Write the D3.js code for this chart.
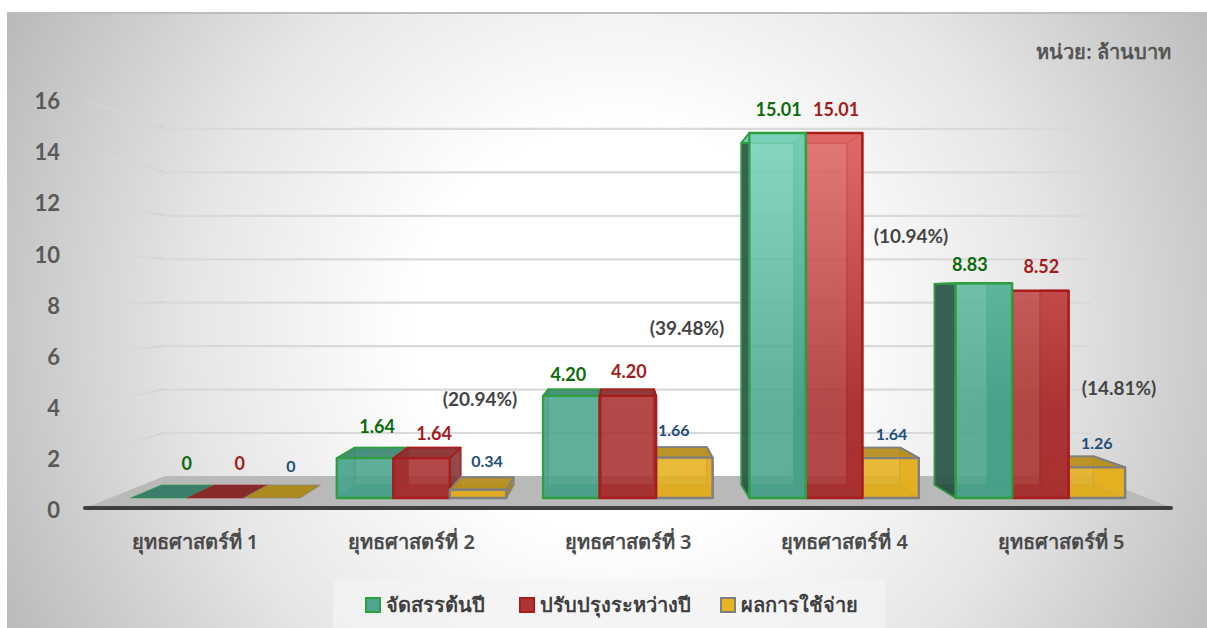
<!DOCTYPE html>
<html><head><meta charset="utf-8">
<script src="https://cdn.jsdelivr.net/npm/d3@7"></script>
<style>html,body{margin:0;padding:0;background:#fff;overflow:hidden}svg{display:block}
text{font-family:"Noto Sans","Lato",sans-serif;font-weight:600}</style></head>
<body><div id="c"></div>
<script>
const categories=["ยุทธศาสตร์ที่ 1","ยุทธศาสตร์ที่ 2","ยุทธศาสตร์ที่ 3","ยุทธศาสตร์ที่ 4","ยุทธศาสตร์ที่ 5"];
const seriesNames=["จัดสรรต้นปี","ปรับปรุงระหว่างปี","ผลการใช้จ่าย"];
const allocated=[0,1.64,4.20,15.01,8.83];
const revised=[0,1.64,4.20,15.01,8.52];
const spent=[0,0.34,1.66,1.64,1.26];
const allocatedText=["0","1.64","4.20","15.01","8.83"];
const revisedText=["0","1.64","4.20","15.01","8.52"];
const spentText=["0","0.34","1.66","1.64","1.26"];
const percents=["","(20.94%)","(39.48%)","(10.94%)","(14.81%)"];
const yTicks=[0,2,4,6,8,10,12,14,16];
const unitLabel="หน่วย: ล้านบาท";

const W=1207,H=628;
const svg=d3.select("#c").append("svg").attr("width",W).attr("height",H);
const defs=svg.append("defs");

// perspective model
const vx=622,vy=292,kBack=0.937,kWall=0.893,kFloor=1.044,kLabel=1.05;
const P=(x,y,k)=>[vx+(x-vx)*k,vy+(y-vy)*k];
const x0=d3.scaleBand().domain(d3.range(5)).range([112.2,1143.45]).paddingInner(36.75/206.25).paddingOuter(18.375/206.25);
const x1=d3.scaleBand().domain(d3.range(3)).range([0,x0.bandwidth()]);
const y=d3.scaleLinear().domain([0,16]).range([498,498-16*24.32]);

// background
const bg=defs.append("radialGradient").attr("id","bg").attr("gradientUnits","userSpaceOnUse")
 .attr("cx",620).attr("cy",330).attr("r",690);
[[0,"#ffffff"],[0.3,"#ffffff"],[0.62,"#e6e6e6"],[1,"#b9b9b9"]].forEach(s=>bg.append("stop").attr("offset",s[0]).attr("stop-color",s[1]));
svg.append("rect").attr("x",7).attr("y",13).attr("width",W-7).attr("height",H-13).attr("fill","url(#bg)");
svg.append("rect").attr("x",7).attr("y",12).attr("width",W-7).attr("height",2).attr("fill","#bdbdbd");

// legend backing
svg.append("rect").attr("x",333).attr("y",579).attr("width",552).attr("height",49).attr("fill","#f4f4f4").attr("opacity",.7);

// gridlines on wall, fading side wall
const sideGrad=defs.append("linearGradient").attr("id","side").attr("gradientUnits","userSpaceOnUse").attr("x1",85).attr("x2",165).attr("y1",0).attr("y2",0);
sideGrad.append("stop").attr("offset",0).attr("stop-color","#dedede").attr("stop-opacity",.15);
sideGrad.append("stop").attr("offset",1).attr("stop-color","#d2d2d2");
const grid=svg.append("g");
yTicks.filter(t=>t>0).forEach(t=>{
  const a=P(110,y(t),kWall),b=P(1147,y(t),kWall),c=P(110,y(t),1.05);
  grid.append("polyline").attr("points",[c,a].join(" ")).attr("fill","none").attr("stroke","url(#side)").attr("stroke-width",2);
  grid.append("line").attr("x1",a[0]).attr("y1",a[1]+.5).attr("x2",b[0]).attr("y2",a[1]+.5).attr("stroke","#d9d9d9").attr("stroke-width",2.2);
});

// floor
svg.append("path").attr("fill","#b9b9b9").attr("d",d3.line()([P(110,y(0),kWall),P(1147,y(0),kWall),P(1147,y(0),kFloor),P(110,y(0),kFloor)])+"Z");

// axis baseline
svg.append("line").attr("x1",85).attr("x2",1171).attr("y1",508).attr("y2",508).attr("stroke","#3f3f3f").attr("stroke-width",4).attr("stroke-linecap","round");

// y axis
const yAxisScale=d3.scaleLinear().domain([0,16]).range([P(0,y(0),kLabel)[1]+1.2,P(0,y(16),kLabel)[1]+1.2]);
const ya=svg.append("g").attr("transform","translate(60,0)").call(d3.axisLeft(yAxisScale).tickValues(yTicks).tickSize(0).tickPadding(0));
ya.select(".domain").remove();
ya.selectAll("text").attr("fill","#595959").style("font-size","22px").style("font-family",'"Lato","Noto Sans",sans-serif').style("font-weight",700).attr("dy","0.36em");

// category axis
const xAxisScale=d3.scaleOrdinal().domain(categories).range(categories.map((c,i)=>P(x0(i)+x0.bandwidth()/2,0,kLabel)[0]));
const xa=svg.append("g").attr("transform","translate(0,541)");
xa.selectAll("text").data(categories).join("text").attr("x",d=>xAxisScale(d)).attr("y",0)
 .attr("text-anchor","middle").attr("dominant-baseline","central").attr("fill","#4a4a4a").style("font-size","20px").text(d=>d);

// gradients
const palette=[
 {top:"#78d2ba",bot:"#4aa48d",stroke:"#2f9e3f",sideT:"#5fb09a",sideB:"#37826d",left:"#2a5247",under:"#3a7e6b",topF:"#3f8a76"},
 {top:"#e06866",bot:"#a92f2f",stroke:"#a81c1c",sideT:"#dc6563",sideB:"#a92f2f",left:"#7c2a2a",under:"#862a2a",topF:"#8a3030"},
 {top:"#eab522",bot:"#e6b01e",stroke:"#7f7f7f",sideT:"#e4ae1e",sideB:"#dca71a",left:"#a5831c",under:"#ad8a1e",topF:"#b78f1d"}];
palette.forEach((p,i)=>{
 const g=defs.append("linearGradient").attr("id","f"+i).attr("gradientUnits","userSpaceOnUse").attr("x1",0).attr("x2",0).attr("y1",133).attr("y2",480);
 g.append("stop").attr("offset",0).attr("stop-color",p.top);
 g.append("stop").attr("offset",.8).attr("stop-color",p.bot);
 const h=defs.append("linearGradient").attr("id","s"+i).attr("gradientUnits","userSpaceOnUse").attr("x1",0).attr("x2",0).attr("y1",133).attr("y2",480);
 h.append("stop").attr("offset",0).attr("stop-color",p.sideT);
 h.append("stop").attr("offset",.8).attr("stop-color",p.sideB);
});

const seriesValues=[allocated,revised,spent];
const line=d3.line();
const bars=svg.append("g");
const poly=(pts,fill,op,stroke,sw,sop)=>bars.append("path").attr("d",line(pts)+"Z").attr("fill",fill).attr("fill-opacity",op)
   .attr("stroke",stroke).attr("stroke-width",sw).attr("stroke-opacity",sop).attr("stroke-linejoin","round");

categories.forEach((cat,i)=>{
 // paint the bars farthest from the vanishing line first
 const order=[0,1,2].sort((a,b)=>Math.abs(x0(i)+x1(b)+x1.bandwidth()/2-vx)-Math.abs(x0(i)+x1(a)+x1.bandwidth()/2-vx));
 order.forEach(s=>{
  const v=seriesValues[s][i],p=palette[s];
  const xl=x0(i)+x1(s),xr=xl+x1.bandwidth(),yb=y(0),yt=y(v);
  const F=[[xl,yt],[xr,yt],[xr,yb],[xl,yb]];
  const B=F.map(q=>P(q[0],q[1],kBack));
  if(v===0){
    poly([F[3],F[2],B[2],B[3]],p.under,1,p.stroke,1.2,.6);
    return;
  }
  // back
  poly(B,"none",0,p.stroke,1.8,.6);
  // bottom
  poly([F[3],F[2],B[2],B[3]],p.under,.85,p.stroke,1.2,.5);
  // sides
  const L=[F[0],F[3],B[3],B[0]],R=[F[1],F[2],B[2],B[1]];
  if(xl>vx) poly(L,p.left,s===0?.92:(s===2?.7:.3),p.stroke,s===0?1.8:1,s===0?.9:.3);
  else poly(L,s===0?"url(#s0)":p.left,s===0?.3:.7,p.stroke,1.4,.6);
  if(xr>vx) poly(R,"url(#s"+s+")",s===0?.94:.82,p.stroke,2,1);
  else poly(R,p.left,.85,p.stroke,1.6,.7);
  // top or underside
  poly([F[0],F[1],B[1],B[0]],yt<vy?p.top:p.topF,.95,p.stroke,1.8,1);
  // front
  poly(F,"url(#f"+s+")",.88,p.stroke,2.4,1);
 });
});

// value labels
const labelTexts=[allocatedText,revisedText,spentText];
const labelColors=["#0b6b0b","#a31c1c","#1f4e79"];
const labelSizes=[18,18,16];
const labelOffsets=[
 [[28,-35],[12,-32],[-3,-22],[1,-24],[-14,-19]],
 [[24.5,-35],[12.5,-25],[1,-25],[2,-24],[1,-25]],
 [[19,-33],[9,-29],[-10.5,-28],[1,-25],[0,-25]]];
labelTexts.forEach((arr,s)=>{
 svg.append("g").selectAll("text").data(arr).join("text")
  .attr("x",(d,i)=>x0(i)+x1(s)+x1.bandwidth()/2+labelOffsets[s][i][0])
  .attr("y",(d,i)=>y(seriesValues[s][i])+labelOffsets[s][i][1])
  .attr("text-anchor","middle").attr("dominant-baseline","central")
  .attr("fill",labelColors[s]).style("font-size",labelSizes[s]+"px").style("font-family",'"Lato","Noto Sans",sans-serif').style("font-weight",700).text(d=>d);
});

// percent labels
const pctX=[0,480,687,911,1119],pctY=[0,398,327,235,387];
svg.append("g").selectAll("text").data(percents).join("text")
 .attr("x",(d,i)=>pctX[i]).attr("y",(d,i)=>pctY[i])
 .attr("text-anchor","middle").attr("dominant-baseline","central")
 .attr("fill","#444").style("font-size","19px").style("font-family",'"Lato","Noto Sans",sans-serif').style("font-weight",700).text(d=>d);

// unit
svg.append("text").attr("x",1171).attr("y",51).attr("text-anchor","end").attr("dominant-baseline","central")
 .attr("fill","#555").style("font-size","20px").text(unitLabel);

// legend
const legX=[365,519,720];
const lg=svg.append("g");
seriesNames.forEach((n,s)=>{
 lg.append("rect").attr("x",legX[s]+1).attr("y",598).attr("width",14).attr("height",14)
   .attr("fill",["#4fa690","#ad3535","#e8b323"][s]).attr("stroke",palette[s].stroke).attr("stroke-width",2);
 lg.append("text").attr("x",legX[s]+21).attr("y",604).attr("dominant-baseline","central")
   .attr("fill","#3f3f3f").style("font-size","20px").text(n);
});
</script></body></html>
